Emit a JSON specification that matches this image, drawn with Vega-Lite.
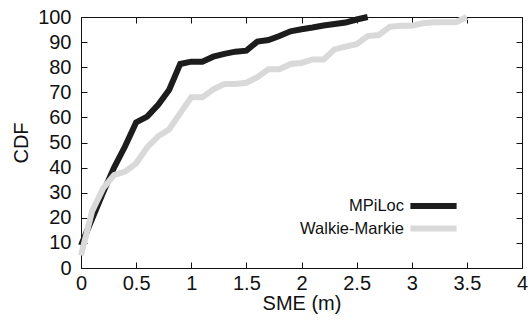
{
  "$schema": "https://vega.github.io/schema/vega-lite/v6.json",
  "width": 441,
  "height": 251,
  "autosize": {"type": "none"},
  "padding": {"left": 81, "top": 17, "right": 9, "bottom": 54},
  "config": {
    "font": "Liberation Sans",
    "view": {"stroke": "#111111", "strokeWidth": 1},
    "axis": {
      "labelFont": "Liberation Sans",
      "titleFont": "Liberation Sans",
      "labelFontSize": 20,
      "titleFontSize": 20,
      "titleFontWeight": "normal",
      "labelColor": "#111111",
      "titleColor": "#111111",
      "tickColor": "#111111",
      "domain": false,
      "grid": false,
      "tickSize": -6,
      "tickWidth": 1
    },
    "legend": {"labelFont": "Liberation Sans", "labelColor": "#111111"}
  },
  "data": {
    "values": [
      {"sme": 0.0, "cdf": 9, "method": "MPiLoc"},
      {"sme": 0.1, "cdf": 19.5, "method": "MPiLoc"},
      {"sme": 0.2, "cdf": 30, "method": "MPiLoc"},
      {"sme": 0.3, "cdf": 40, "method": "MPiLoc"},
      {"sme": 0.4, "cdf": 48.5, "method": "MPiLoc"},
      {"sme": 0.5, "cdf": 58, "method": "MPiLoc"},
      {"sme": 0.6, "cdf": 60.3, "method": "MPiLoc"},
      {"sme": 0.7, "cdf": 65, "method": "MPiLoc"},
      {"sme": 0.8, "cdf": 71, "method": "MPiLoc"},
      {"sme": 0.9, "cdf": 81.3, "method": "MPiLoc"},
      {"sme": 1.0, "cdf": 82.2, "method": "MPiLoc"},
      {"sme": 1.1, "cdf": 82.2, "method": "MPiLoc"},
      {"sme": 1.2, "cdf": 84.2, "method": "MPiLoc"},
      {"sme": 1.3, "cdf": 85.3, "method": "MPiLoc"},
      {"sme": 1.4, "cdf": 86.2, "method": "MPiLoc"},
      {"sme": 1.5, "cdf": 86.6, "method": "MPiLoc"},
      {"sme": 1.6, "cdf": 90.2, "method": "MPiLoc"},
      {"sme": 1.7, "cdf": 90.8, "method": "MPiLoc"},
      {"sme": 1.8, "cdf": 92.4, "method": "MPiLoc"},
      {"sme": 1.9, "cdf": 94.3, "method": "MPiLoc"},
      {"sme": 2.0, "cdf": 95.1, "method": "MPiLoc"},
      {"sme": 2.1, "cdf": 95.8, "method": "MPiLoc"},
      {"sme": 2.2, "cdf": 96.6, "method": "MPiLoc"},
      {"sme": 2.3, "cdf": 97.2, "method": "MPiLoc"},
      {"sme": 2.4, "cdf": 97.8, "method": "MPiLoc"},
      {"sme": 2.5, "cdf": 99, "method": "MPiLoc"},
      {"sme": 2.6, "cdf": 100, "method": "MPiLoc"},
      {"sme": 0.0, "cdf": 5, "method": "Walkie-Markie"},
      {"sme": 0.1, "cdf": 22.5, "method": "Walkie-Markie"},
      {"sme": 0.2, "cdf": 31.7, "method": "Walkie-Markie"},
      {"sme": 0.3, "cdf": 37, "method": "Walkie-Markie"},
      {"sme": 0.4, "cdf": 38.4, "method": "Walkie-Markie"},
      {"sme": 0.5, "cdf": 41.7, "method": "Walkie-Markie"},
      {"sme": 0.6, "cdf": 48, "method": "Walkie-Markie"},
      {"sme": 0.7, "cdf": 52.5, "method": "Walkie-Markie"},
      {"sme": 0.8, "cdf": 55.3, "method": "Walkie-Markie"},
      {"sme": 0.9, "cdf": 61.7, "method": "Walkie-Markie"},
      {"sme": 1.0, "cdf": 68, "method": "Walkie-Markie"},
      {"sme": 1.1, "cdf": 68, "method": "Walkie-Markie"},
      {"sme": 1.2, "cdf": 71.2, "method": "Walkie-Markie"},
      {"sme": 1.3, "cdf": 73.3, "method": "Walkie-Markie"},
      {"sme": 1.4, "cdf": 73.3, "method": "Walkie-Markie"},
      {"sme": 1.5, "cdf": 73.8, "method": "Walkie-Markie"},
      {"sme": 1.6, "cdf": 76, "method": "Walkie-Markie"},
      {"sme": 1.7, "cdf": 79.2, "method": "Walkie-Markie"},
      {"sme": 1.8, "cdf": 79.2, "method": "Walkie-Markie"},
      {"sme": 1.9, "cdf": 81.3, "method": "Walkie-Markie"},
      {"sme": 2.0, "cdf": 81.7, "method": "Walkie-Markie"},
      {"sme": 2.1, "cdf": 83.1, "method": "Walkie-Markie"},
      {"sme": 2.2, "cdf": 83.1, "method": "Walkie-Markie"},
      {"sme": 2.3, "cdf": 87.1, "method": "Walkie-Markie"},
      {"sme": 2.4, "cdf": 88.2, "method": "Walkie-Markie"},
      {"sme": 2.5, "cdf": 89.2, "method": "Walkie-Markie"},
      {"sme": 2.6, "cdf": 92.4, "method": "Walkie-Markie"},
      {"sme": 2.7, "cdf": 92.8, "method": "Walkie-Markie"},
      {"sme": 2.8, "cdf": 96.1, "method": "Walkie-Markie"},
      {"sme": 2.9, "cdf": 96.5, "method": "Walkie-Markie"},
      {"sme": 3.0, "cdf": 96.5, "method": "Walkie-Markie"},
      {"sme": 3.1, "cdf": 97.5, "method": "Walkie-Markie"},
      {"sme": 3.2, "cdf": 97.9, "method": "Walkie-Markie"},
      {"sme": 3.3, "cdf": 97.9, "method": "Walkie-Markie"},
      {"sme": 3.4, "cdf": 97.9, "method": "Walkie-Markie"},
      {"sme": 3.5, "cdf": 100, "method": "Walkie-Markie"}
    ]
  },
  "layer": [
    {
      "mark": {"type": "line", "strokeWidth": 6, "clip": false},
      "encoding": {
        "x": {
          "field": "sme", "type": "quantitative",
          "scale": {"domain": [0, 4], "nice": false},
          "axis": {"title": "SME (m)", "values": [0, 0.5, 1, 1.5, 2, 2.5, 3, 3.5, 4], "format": "~g", "labelPadding": 11, "titlePadding": 0, "orient": "bottom", "labelFlush": false}
        },
        "y": {
          "field": "cdf", "type": "quantitative",
          "scale": {"domain": [0, 100], "nice": false},
          "axis": {"title": "CDF", "values": [0, 10, 20, 30, 40, 50, 60, 70, 80, 90, 100], "labelPadding": 16, "titlePadding": 6, "orient": "left", "labelFlush": false}
        },
        "color": {
          "field": "method", "type": "nominal",
          "scale": {"domain": ["MPiLoc", "Walkie-Markie"], "range": ["#1c1c1c", "#d9d9d9"]},
          "legend": {
            "title": null,
            "orient": "none",
            "legendX": 344,
            "legendY": 180.5,
            "padding": 0,
            "symbolType": "M-4.2,0H4.2",
            "symbolSize": 121,
            "symbolStrokeWidth": 6,
            "labelAlign": "right",
            "labelOffset": -38,
            "labelFontSize": 16.5,
            "rowPadding": -2.5
          }
        }
      }
    },
    {
      "mark": {"type": "line", "strokeOpacity": 0},
      "encoding": {
        "x": {"field": "sme", "type": "quantitative", "axis": {"orient": "top", "labels": false, "title": null, "values": [0, 0.5, 1, 1.5, 2, 2.5, 3, 3.5, 4]}},
        "y": {"field": "cdf", "type": "quantitative", "axis": {"orient": "right", "labels": false, "title": null, "values": [0, 10, 20, 30, 40, 50, 60, 70, 80, 90, 100]}}
      }
    }
  ],
  "resolve": {"axis": {"x": "independent", "y": "independent"}}
}
